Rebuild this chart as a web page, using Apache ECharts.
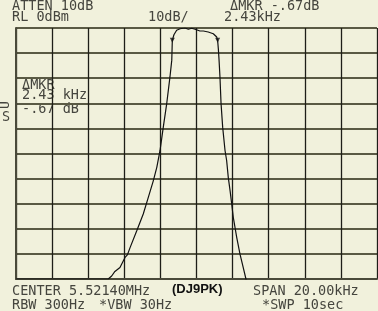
<!DOCTYPE html>
<html>
<head>
<meta charset="utf-8">
<script src="https://cdn.jsdelivr.net/npm/echarts@6/dist/echarts.min.js"></script>
<style>
html,body{margin:0;padding:0;background:#f1f1dc;}
#c{width:378px;height:311px;}
</style>
</head>
<body>
<div id="c"></div>
<script>
// Frequency offset from center (kHz) and trace level (dBm)
var freqKHz = [-10, -4.89, -4.70, -4.52, -4.24, -3.96, -3.83, -3.68, -3.31, -2.95, -2.67, -2.39, -2.20, -2.02, -1.84, -1.65, -1.47, -1.37, -1.34, -1.25, -1.10, -0.91, -0.64, -0.45, -0.27, -0.08, 0.19, 0.38, 0.65, 0.93, 1.12, 1.17, 1.21, 1.25, 1.30, 1.36, 1.45, 1.58, 1.67, 1.76, 1.86, 1.95, 2.04, 2.23, 2.41, 2.59, 2.74, 2.85, 10];
var levelDb = [-100, -100, -98.8, -97, -95.4, -91.4, -90.4, -87.5, -80.8, -74.1, -67.5, -60.8, -55.5, -48.8, -39.5, -30.1, -19.5, -12.8, -4.9, -2.7, -0.9, -0.3, 0, -0.5, -0.1, -0.5, -1.2, -1.2, -1.6, -2.3, -3.6, -4.9, -8.3, -12.8, -19.5, -30.1, -39.5, -48.8, -52.8, -59.5, -64.8, -70.1, -75.5, -83.5, -90.1, -95.5, -100, -104, -104];
var markerFreq = [-1.34, 1.17];
var markerDb = [-4.9, -4.9];
var xTicks = [-10, -8, -6, -4, -2, 0, 2, 4, 6, 8, 10];
var yTicks = [0, -10, -20, -30, -40, -50, -60, -70, -80, -90, -100];

var headerTexts = [
  {t: 'ATTEN 10dB', x: 12, y: 6.5},
  {t: 'RL 0dBm', x: 12, y: 17},
  {t: '10dB/', x: 148, y: 17},
  {t: '\u0394MKR -.67dB', x: 230, y: 6.5},
  {t: '2.43kHz', x: 224, y: 17},
  {t: '\u0394MKR', x: 22, y: 85},
  {t: '2.43 kHz', x: 22, y: 95.5},
  {t: '-.67 dB', x: 22, y: 109},
  {t: 'S', x: 2, y: 117},
  {t: 'CENTER 5.52140MHz', x: 12, y: 291.5},
  {t: 'SPAN 20.00kHz', x: 253, y: 291.5},
  {t: 'RBW 300Hz', x: 12, y: 305},
  {t: '*VBW 30Hz', x: 99, y: 305},
  {t: '*SWP 10sec', x: 262, y: 305}
];

var traceData = freqKHz.map(function (f, i) { return [f, levelDb[i]]; });
var markerData = markerFreq.map(function (f, i) { return [f, markerDb[i]]; });

var graphics = headerTexts.map(function (h) {
  return {
    type: 'text', x: h.x, y: h.y,
    style: {text: h.t, fill: '#45453e', font: '13.5px "DejaVu Sans Mono"',
            verticalAlign: 'middle', textVerticalAlign: 'middle', align: 'left'}
  };
});
graphics.push({
  type: 'text', x: 6, y: 105, rotation: Math.PI / 2,
  style: {text: 'U', fill: '#45453e', font: '13px "DejaVu Sans Mono"', align: 'center', textAlign: 'center',
          verticalAlign: 'middle', textVerticalAlign: 'middle'}
});
graphics.push({
  type: 'text', x: 172, y: 289,
  style: {text: '(DJ9PK)', fill: '#111', font: 'bold 13px "Liberation Sans"',
          verticalAlign: 'middle', textVerticalAlign: 'middle'}
});

var chart = echarts.init(document.getElementById('c'), null, {renderer: 'canvas'});
chart.setOption({
  animation: false,
  backgroundColor: '#f1f1dc',
  grid: {left: 16, right: 1, top: 28, bottom: 32, containLabel: false},
  xAxis: {
    type: 'value', min: xTicks[0], max: xTicks[xTicks.length - 1], interval: 2,
    axisLabel: {show: false}, axisTick: {show: false},
    axisLine: {show: true, onZero: false, lineStyle: {color: '#4a4a3a', width: 2}},
    splitLine: {show: true, lineStyle: {color: '#1e1e18', width: 1.3}}
  },
  yAxis: {
    type: 'value', min: yTicks[yTicks.length - 1], max: yTicks[0], interval: 10,
    axisLabel: {show: false}, axisTick: {show: false},
    axisLine: {show: true, onZero: false, lineStyle: {color: '#4a4a3a', width: 2}},
    splitLine: {show: true, lineStyle: {color: '#5a5a44', width: 2}}
  },
  series: [
    {
      type: 'line', data: traceData, showSymbol: false, clip: true,
      lineStyle: {color: '#111', width: 1.2}, z: 5
    },
    {
      type: 'scatter', data: markerData, symbol: 'triangle', symbolRotate: 180, symbolSize: 5,
      itemStyle: {color: '#111'}, z: 6
    }
  ],
  graphic: graphics
});
</script>
</body>
</html>
